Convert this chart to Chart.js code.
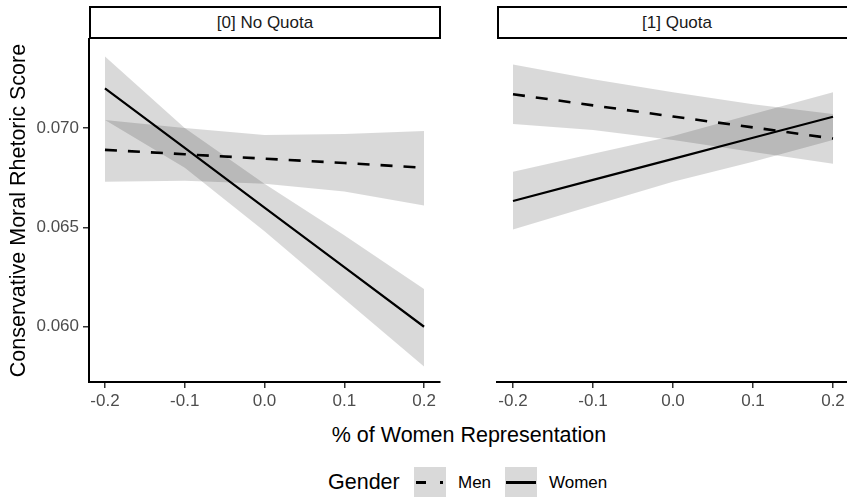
<!DOCTYPE html>
<html>
<head>
<meta charset="utf-8">
<script src="https://cdn.jsdelivr.net/npm/chart.js@4.4.1/dist/chart.umd.min.js"></script>
<style>
  html, body { margin: 0; padding: 0; background: #fff; overflow: hidden; width: 847px; height: 498px; }
  body { position: relative; font-family: "Liberation Sans", Arial, sans-serif; }
  canvas { position: absolute; }
  .strip { position: absolute; top: 6px; height: 33px; box-sizing: border-box; border: 2px solid #000; background: #fff;
           font-size: 17px; color: #1a1a1a; text-align: center; line-height: 29px; }
  .txt { position: absolute; white-space: nowrap; color: #000; }
  .key { position: absolute; top: 467px; width: 32px; height: 30px; background: #d9d9d9; }
  .key div { position: absolute; top: 14px; height: 2.5px; }
</style>
</head>
<body>
<canvas id="left" width="445" height="420" style="left:0;top:0"></canvas>
<canvas id="right" width="365" height="420" style="left:490px;top:0"></canvas>
<div class="strip" style="left:89px;width:352px">[0] No Quota</div>
<div class="strip" style="left:497px;width:360px">[1] Quota</div>
<div class="txt" style="left:469px;top:423px;font-size:21.5px;transform:translateX(-50%)">% of Women Representation</div>
<div class="txt" style="left:328px;top:470px;font-size:21.5px">Gender</div>
<div class="key" style="left:414px"><div style="left:2px;width:28px;background:linear-gradient(90deg,#000 0 10px,transparent 10px 24px,#000 24px 27px,transparent 27px)"></div></div>
<div class="txt" style="left:458px;top:473px;font-size:17px">Men</div>
<div class="key" style="left:505px"><div style="left:1px;width:30px;background:#000"></div></div>
<div class="txt" style="left:549px;top:473px;font-size:17px">Women</div>
<script>
// x positions (share of women representation, centred)
const xVals = [-0.2, -0.1, 0.0, 0.1, 0.2];
const xTicks = [-0.2, -0.1, 0.0, 0.1, 0.2];
const yTicks = [0.060, 0.065, 0.070];

// [0] No Quota
const menFitNQ = [0.0689, 0.06868, 0.06846, 0.06824, 0.0680];
const menHiNQ = [0.0704, 0.0700, 0.06965, 0.0697, 0.06985];
const menLoNQ = [0.0673, 0.06735, 0.0672, 0.0668, 0.0661];
const womenFitNQ = [0.0720, 0.0690, 0.0660, 0.0630, 0.0600];
const womenHiNQ = [0.0736, 0.0700, 0.0672, 0.0646, 0.0619];
const womenLoNQ = [0.0704, 0.0680, 0.0648, 0.0614, 0.0580];

// [1] Quota
const menFitQ = [0.0717, 0.07114, 0.07058, 0.07003, 0.06947];
const menHiQ = [0.0732, 0.07245, 0.0718, 0.0712, 0.0707];
const menLoQ = [0.0702, 0.0699, 0.0694, 0.0688, 0.0682];
const womenFitQ = [0.06633, 0.06739, 0.06845, 0.06951, 0.07057];
const womenHiQ = [0.0678, 0.0687, 0.0696, 0.0707, 0.0718];
const womenLoQ = [0.0649, 0.0661, 0.0673, 0.0683, 0.0694];

const Y_MIN = 0.05722, Y_MAX = 0.07448;
const bandColor = 'rgba(0,0,0,0.15)';
const font = 'Liberation Sans';

const pts = arr => xVals.map((x, i) => ({ x: x, y: arr[i] }));

function makeDatasets(menFit, menHi, menLo, womenFit, womenHi, womenLo) {
    // lines first so they are drawn on top of the ribbons
    return [
        { label: 'Women', data: pts(womenFit), borderColor: '#000', borderWidth: 2.2, pointRadius: 0, fill: false },
        { label: 'Men', data: pts(menFit), borderColor: '#000', borderWidth: 2.6, borderDash: [12, 11], pointRadius: 0, fill: false },
        { label: 'Men hi', data: pts(menHi), borderWidth: 0, pointRadius: 0, backgroundColor: bandColor, fill: 3 },
        { label: 'Men lo', data: pts(menLo), borderWidth: 0, pointRadius: 0, fill: false },
        { label: 'Women hi', data: pts(womenHi), borderWidth: 0, pointRadius: 0, backgroundColor: bandColor, fill: 5 },
        { label: 'Women lo', data: pts(womenLo), borderWidth: 0, pointRadius: 0, fill: false }
    ];
}

function xScale(height) {
    return {
        type: 'linear', min: -0.22, max: 0.22,
        afterBuildTicks: s => { s.ticks = xTicks.map(v => ({ value: v })); },
        afterFit: s => { s.height = height; },
        border: { display: true, color: '#000', width: 2 },
        grid: { drawOnChartArea: false, drawTicks: true, tickLength: 6, color: '#333', lineWidth: 1.5 },
        ticks: { color: '#4d4d4d', padding: 3, font: { family: font, size: 17 }, callback: v => v.toFixed(1), maxRotation: 0 }
    };
}

function yScale(show) {
    return {
        type: 'linear', min: Y_MIN, max: Y_MAX, display: show,
        afterBuildTicks: s => { s.ticks = yTicks.map(v => ({ value: v })); },
        afterFit: s => { s.width = show ? 89 : 0; },
        border: { display: true, color: '#000', width: 2 },
        grid: { drawOnChartArea: false, drawTicks: true, tickLength: 6, color: '#333', lineWidth: 1.5 },
        ticks: { color: '#4d4d4d', padding: 4, font: { family: font, size: 17 }, callback: v => v.toFixed(3) },
        title: { display: true, text: 'Conservative Moral Rhetoric Score', color: '#000',
                 font: { family: font, size: 21.5 }, padding: { top: 6, bottom: 0 } }
    };
}

new Chart(document.getElementById('left'), {
    type: 'line',
    data: { datasets: makeDatasets(menFitNQ, menHiNQ, menLoNQ, womenFitNQ, womenHiNQ, womenLoNQ) },
    options: {
        responsive: false, animation: false,
        layout: { padding: { top: 39, right: 5, left: 0, bottom: 0 } },
        plugins: { legend: { display: false }, tooltip: { enabled: false } },
        scales: { x: xScale(38), y: yScale(true) }
    }
});

new Chart(document.getElementById('right'), {
    type: 'line',
    data: { datasets: makeDatasets(menFitQ, menHiQ, menLoQ, womenFitQ, womenHiQ, womenLoQ) },
    options: {
        responsive: false, animation: false,
        layout: { padding: { top: 39, right: 6, left: 7, bottom: 0 } },
        plugins: { legend: { display: false }, tooltip: { enabled: false } },
        scales: { x: xScale(38), y: yScale(false) }
    }
});
</script>
</body>
</html>
